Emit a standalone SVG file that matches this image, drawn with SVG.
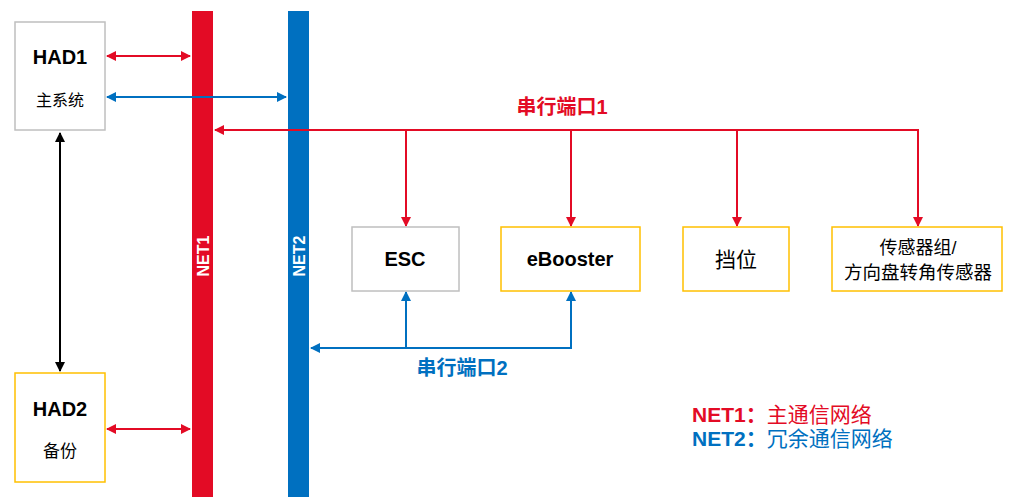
<svg xmlns="http://www.w3.org/2000/svg" width="1009" height="497" viewBox="0 0 1009 497">
<style>
.box{fill:#fff;stroke-width:1.5}
.g{stroke:#bfbfbf}
.y{stroke:#ffc000}
.t{font-family:"Liberation Sans","Noto Sans CJK SC",sans-serif;text-anchor:middle;fill:#000}
.b{font-weight:bold}
.red{stroke:#e30b25;stroke-width:2;fill:none}
.blue{stroke:#0070c0;stroke-width:2;fill:none}
.blk{stroke:#000;stroke-width:2;fill:none}
</style>
<defs>
<marker id="ar" viewBox="0 0 10 10" refX="9" refY="5" markerWidth="5" markerHeight="5" orient="auto-start-reverse"><path d="M0,0L10,5L0,10z" fill="#e30b25"/></marker>
<marker id="ab" viewBox="0 0 10 10" refX="9" refY="5" markerWidth="5" markerHeight="5" orient="auto-start-reverse"><path d="M0,0L10,5L0,10z" fill="#0070c0"/></marker>
<marker id="ak" viewBox="0 0 10 10" refX="9" refY="5" markerWidth="5" markerHeight="5" orient="auto-start-reverse"><path d="M0,0L10,5L0,10z" fill="#000"/></marker>
</defs>
<rect width="1009" height="497" fill="#fff"/>
<g id="net1"><rect x="192" y="11" width="21" height="486" fill="#e30b25"/><text class="t b" transform="translate(209,256) rotate(-90)" font-size="16" style="fill:#fff">NET1</text></g>
<g id="net2"><rect x="288" y="11" width="21" height="486" fill="#0070c0"/><text class="t b" transform="translate(305,256) rotate(-90)" font-size="16" style="fill:#fff">NET2</text></g>
<g id="connectors">
<line class="red" x1="107" y1="56" x2="190" y2="56" marker-start="url(#ar)" marker-end="url(#ar)"/>
<line class="blue" x1="107" y1="97" x2="286" y2="97" marker-start="url(#ab)" marker-end="url(#ab)"/>
<line class="red" x1="107" y1="429" x2="190" y2="429" marker-start="url(#ar)" marker-end="url(#ar)"/>
<line class="blk" x1="60" y1="133" x2="60" y2="371" marker-start="url(#ak)" marker-end="url(#ak)"/>
<polyline class="red" points="918,226 918,130 215,130" marker-start="url(#ar)" marker-end="url(#ar)"/>
<line class="red" x1="406" y1="130" x2="406" y2="226" marker-end="url(#ar)"/>
<line class="red" x1="571" y1="130" x2="571" y2="226" marker-end="url(#ar)"/>
<line class="red" x1="737" y1="130" x2="737" y2="226" marker-end="url(#ar)"/>
<polyline class="blue" points="571,292 571,348 311,348" marker-start="url(#ab)" marker-end="url(#ab)"/>
<line class="blue" x1="406" y1="348" x2="406" y2="292" marker-end="url(#ab)"/>
<text class="t b" x="562" y="114" font-size="20" style="fill:#e30b25">串行端口1</text>
<text class="t b" x="462" y="375" font-size="20" style="fill:#0070c0">串行端口2</text>
</g>
<g id="had1"><rect class="box g" x="15" y="22" width="90" height="108"/><text class="t b" x="60" y="64" font-size="20">HAD1</text><text class="t" x="60" y="106" font-size="16">主系统</text></g>
<g id="had2"><rect class="box y" x="15" y="373" width="90" height="109"/><text class="t b" x="60" y="416" font-size="20">HAD2</text><text class="t" x="60" y="457" font-size="17">备份</text></g>
<g id="esc"><rect class="box g" x="352" y="227" width="107" height="64"/><text class="t b" x="405" y="266" font-size="20">ESC</text></g>
<g id="ebooster"><rect class="box y" x="501" y="227" width="139" height="64"/><text class="t b" x="570" y="266" font-size="20">eBooster</text></g>
<g id="gear"><rect class="box y" x="683" y="227" width="106" height="64"/><text class="t" x="736" y="267" font-size="21">挡位</text></g>
<g id="sensors"><rect class="box y" x="832" y="227" width="170" height="64"/><text class="t" x="918" y="254" font-size="18">传感器组/</text><text class="t" x="918" y="279" font-size="18.5">方向盘转角传感器</text></g>
<g id="legend"><text x="692" y="422" font-size="21" class="b" style="font-family:'Liberation Sans','Noto Sans CJK SC',sans-serif;fill:#e30b25">NET1：<tspan font-weight="normal">主通信网络</tspan></text><text x="692" y="446" font-size="21" class="b" style="font-family:'Liberation Sans','Noto Sans CJK SC',sans-serif;fill:#0070c0">NET2：<tspan font-weight="normal">冗余通信网络</tspan></text></g>
</svg>
